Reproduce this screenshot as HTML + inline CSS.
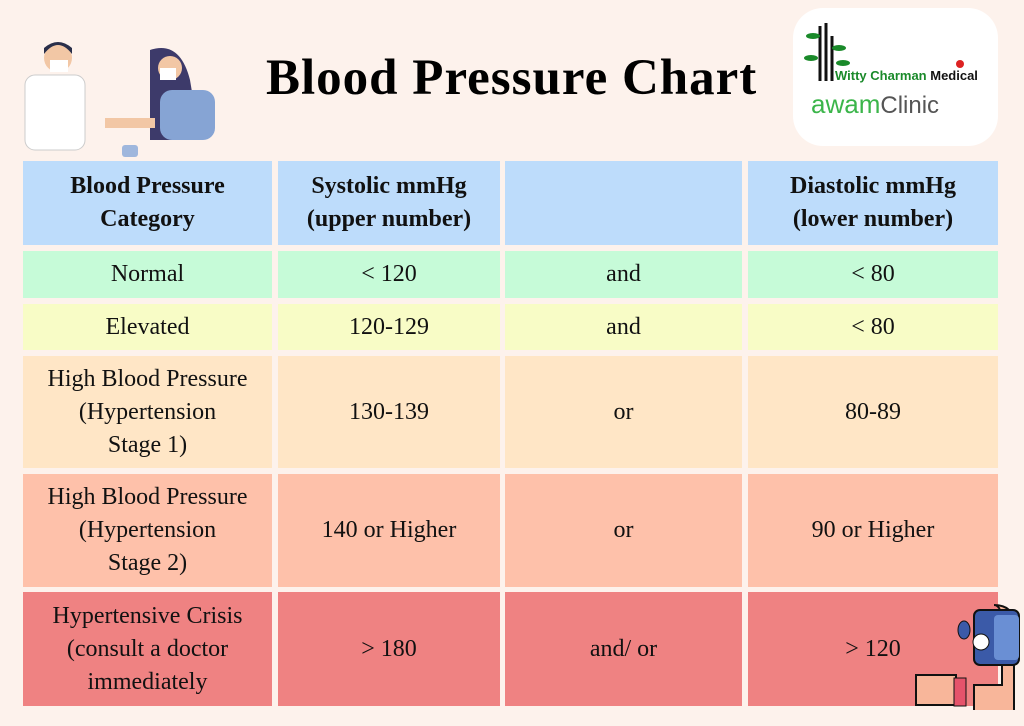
<!DOCTYPE html>
<html><head><meta charset="utf-8"><style>
body{margin:0;width:1024px;height:726px;background:#fdf2ec;position:relative;overflow:hidden;font-family:"Liberation Serif",serif;}
.c{position:absolute;display:flex;align-items:center;justify-content:center;text-align:center;font-size:24px;line-height:33px;color:#111;}
.h{font-weight:bold;}
h1{position:absolute;left:266px;top:50px;margin:0;font-size:51px;line-height:56px;font-weight:bold;letter-spacing:1px;}
.logo{position:absolute;left:793px;top:8px;width:205px;height:138px;background:#fff;border-radius:30px;}
</style></head><body>
<h1>Blood Pressure Chart</h1>
<div class="logo">
<svg width="205" height="138" style="position:absolute;left:0;top:0">
<g stroke="#111" stroke-width="3"><line x1="27" y1="18" x2="27" y2="73"/><line x1="33" y1="15" x2="33" y2="73"/><line x1="39" y1="28" x2="39" y2="73"/></g>
<g fill="#1a8a2a"><ellipse cx="20" cy="28" rx="7" ry="3"/><ellipse cx="46" cy="40" rx="7" ry="3"/><ellipse cx="18" cy="50" rx="7" ry="3"/><ellipse cx="50" cy="55" rx="7" ry="3"/></g>
<text x="42" y="72" font-family="Liberation Sans Narrow,Liberation Sans,sans-serif" font-size="13" font-weight="bold" fill="#1a8a2a">Witty Charman <tspan fill="#111">Medical</tspan></text>
<circle cx="167" cy="56" r="4" fill="#d22"/>
<text x="18" y="105" font-family="Liberation Sans,sans-serif" font-size="26" fill="#3bb54a">awam<tspan fill="#555" font-size="24">Clinic</tspan></text>
</svg></div>
<svg width="240" height="160" style="position:absolute;left:10px;top:30px">
<rect x="15" y="45" width="60" height="75" rx="10" fill="#fff" stroke="#ccc"/>
<circle cx="48" cy="28" r="14" fill="#f2c7a5"/><path d="M34 24 q14-18 28 0 v-6 q-14-12-28 0z" fill="#2a2f4a"/>
<rect x="40" y="30" width="18" height="12" fill="#fff"/>
<path d="M140 20 q30-10 40 30 l10 60 h-50z" fill="#3d3a6a"/>
<rect x="150" y="60" width="55" height="50" rx="12" fill="#86a4d4"/>
<circle cx="160" cy="38" r="12" fill="#f2c7a5"/><rect x="150" y="38" width="16" height="12" fill="#fff"/>
<rect x="95" y="88" width="50" height="10" fill="#f2c7a5"/>
<rect x="112" y="115" width="16" height="12" rx="3" fill="#9fb7dd"/>
</svg>
<div class="c h" style="left:23px;top:161px;width:249px;height:84px;background:#bddcfb">Blood Pressure<br>Category</div>
<div class="c h" style="left:278px;top:161px;width:222px;height:84px;background:#bddcfb">Systolic mmHg<br>(upper number)</div>
<div class="c h" style="left:505px;top:161px;width:237px;height:84px;background:#bddcfb"></div>
<div class="c h" style="left:748px;top:161px;width:250px;height:84px;background:#bddcfb">Diastolic mmHg<br>(lower number)</div>
<div class="c" style="left:23px;top:251px;width:249px;height:47px;background:#c6fbd8">Normal</div>
<div class="c" style="left:278px;top:251px;width:222px;height:47px;background:#c6fbd8">&lt; 120</div>
<div class="c" style="left:505px;top:251px;width:237px;height:47px;background:#c6fbd8">and</div>
<div class="c" style="left:748px;top:251px;width:250px;height:47px;background:#c6fbd8">&lt; 80</div>
<div class="c" style="left:23px;top:304px;width:249px;height:46px;background:#f8fcc6">Elevated</div>
<div class="c" style="left:278px;top:304px;width:222px;height:46px;background:#f8fcc6">120-129</div>
<div class="c" style="left:505px;top:304px;width:237px;height:46px;background:#f8fcc6">and</div>
<div class="c" style="left:748px;top:304px;width:250px;height:46px;background:#f8fcc6">&lt; 80</div>
<div class="c" style="left:23px;top:356px;width:249px;height:112px;background:#ffe6c6">High Blood Pressure<br>(Hypertension<br>Stage 1)</div>
<div class="c" style="left:278px;top:356px;width:222px;height:112px;background:#ffe6c6">130-139</div>
<div class="c" style="left:505px;top:356px;width:237px;height:112px;background:#ffe6c6">or</div>
<div class="c" style="left:748px;top:356px;width:250px;height:112px;background:#ffe6c6">80-89</div>
<div class="c" style="left:23px;top:474px;width:249px;height:113px;background:#fec1aa">High Blood Pressure<br>(Hypertension<br>Stage 2)</div>
<div class="c" style="left:278px;top:474px;width:222px;height:113px;background:#fec1aa">140 or Higher</div>
<div class="c" style="left:505px;top:474px;width:237px;height:113px;background:#fec1aa">or</div>
<div class="c" style="left:748px;top:474px;width:250px;height:113px;background:#fec1aa">90 or Higher</div>
<div class="c" style="left:23px;top:592px;width:249px;height:114px;background:#ef8282">Hypertensive Crisis<br>(consult a doctor<br>immediately</div>
<div class="c" style="left:278px;top:592px;width:222px;height:114px;background:#ef8282">&gt; 180</div>
<div class="c" style="left:505px;top:592px;width:237px;height:114px;background:#ef8282">and/ or</div>
<div class="c" style="left:748px;top:592px;width:250px;height:114px;background:#ef8282">&gt; 120</div>
<svg width="110" height="110" style="position:absolute;left:914px;top:600px">
<path d="M80 5 q20 0 20 20 v90 h-40 v-30 h28 v-60 q0-20 -8-20z" fill="#f8b69a" stroke="#111" stroke-width="2"/>
<rect x="60" y="10" width="45" height="55" rx="6" fill="#3b5aa8" stroke="#111" stroke-width="2"/>
<rect x="80" y="15" width="25" height="45" rx="4" fill="#6a8fd4"/>
<circle cx="67" cy="42" r="8" fill="#fff" stroke="#111"/>
<ellipse cx="50" cy="30" rx="6" ry="9" fill="#3b5aa8" stroke="#111"/>
<path d="M2 75 h40 v30 h-40z" fill="#f8b69a" stroke="#111" stroke-width="2"/>
<rect x="40" y="78" width="12" height="28" fill="#e5536b" stroke="#111"/>
</svg>
</body></html>
